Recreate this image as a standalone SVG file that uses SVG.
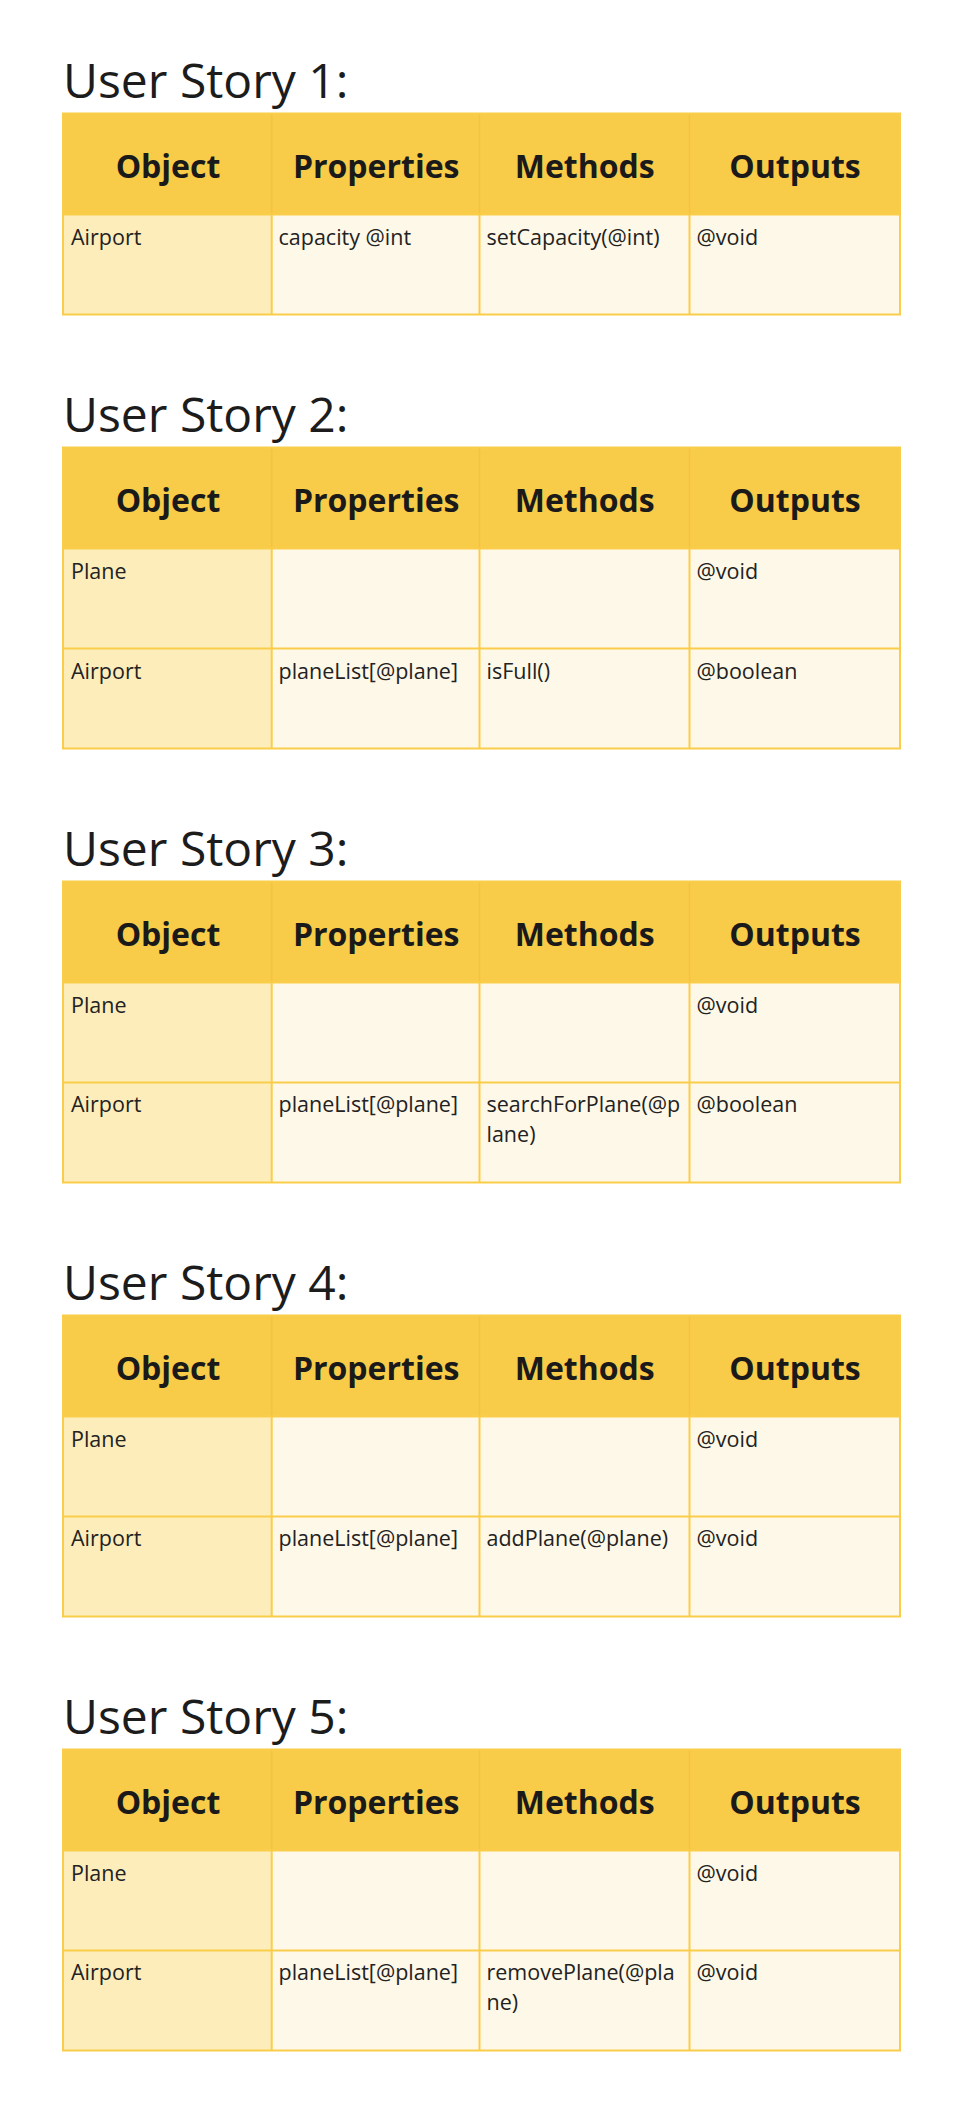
<svg xmlns="http://www.w3.org/2000/svg" width="958" height="2118" viewBox="0 0 958 2118">
<style>
.title{font-family:"Open Sans","Noto Sans","Liberation Sans",sans-serif;font-size:48px;fill:#1c1c1c}
.hd{font-family:"Open Sans","Noto Sans","Liberation Sans",sans-serif;font-size:32px;font-weight:700;fill:#1a1a1a;text-anchor:middle}
.tx{font-family:"Open Sans","Noto Sans","Liberation Sans",sans-serif;font-size:21.5px;fill:#222}
.hfill{fill:#F8CB48}
.ofill{fill:#FDEDBA}
.bfill{fill:#FEF8E8}
.hdiv{stroke:#F3C440;stroke-width:1.5;fill:none}
.grid{stroke:#F9CD4A;stroke-width:2;fill:none}
</style>
<rect x="0" y="0" width="958" height="2118" fill="#ffffff"/>

<g id="story1">
<text class="title" x="63" y="98">User Story 1:</text>
<rect class="hfill" x="63" y="113.5" width="837" height="101"/>
<rect class="ofill" x="63" y="214.5" width="208.7" height="100"/>
<rect class="bfill" x="271.7" y="214.5" width="628.3" height="100"/>
<path class="hdiv" d="M271.7 113.5V214.5M479.5 113.5V214.5M689.5 113.5V214.5"/>
<path class="grid" d="M63 113.5H900V314.5H63ZM63 214.5H900M271.7 214.5V314.5M479.5 214.5V314.5M689.5 214.5V314.5"/>
<text class="hd" x="168" y="177.5">Object</text>
<text class="hd" x="376.2" y="177.5">Properties</text>
<text class="hd" x="584.7" y="177.5">Methods</text>
<text class="hd" x="795" y="177.5">Outputs</text>
<text class="tx" x="71" y="244.5">Airport</text>
<text class="tx" x="278.5" y="244.5">capacity @int</text>
<text class="tx" x="486.5" y="244.5">setCapacity(@int)</text>
<text class="tx" x="696.5" y="244.5">@void</text>
</g>

<g id="story2">
<text class="title" x="63" y="432">User Story 2:</text>
<rect class="hfill" x="63" y="447.5" width="837" height="101"/>
<rect class="ofill" x="63" y="548.5" width="208.7" height="200"/>
<rect class="bfill" x="271.7" y="548.5" width="628.3" height="200"/>
<path class="hdiv" d="M271.7 447.5V548.5M479.5 447.5V548.5M689.5 447.5V548.5"/>
<path class="grid" d="M63 447.5H900V748.5H63ZM63 548.5H900M63 648.5H900M271.7 548.5V748.5M479.5 548.5V748.5M689.5 548.5V748.5"/>
<text class="hd" x="168" y="511.5">Object</text>
<text class="hd" x="376.2" y="511.5">Properties</text>
<text class="hd" x="584.7" y="511.5">Methods</text>
<text class="hd" x="795" y="511.5">Outputs</text>
<text class="tx" x="71" y="578.5">Plane</text>
<text class="tx" x="696.5" y="578.5">@void</text>
<text class="tx" x="71" y="678.5">Airport</text>
<text class="tx" x="278.5" y="678.5">planeList[@plane]</text>
<text class="tx" x="486.5" y="678.5">isFull()</text>
<text class="tx" x="696.5" y="678.5">@boolean</text>
</g>

<g id="story3">
<text class="title" x="63" y="866">User Story 3:</text>
<rect class="hfill" x="63" y="881.5" width="837" height="101"/>
<rect class="ofill" x="63" y="982.5" width="208.7" height="200"/>
<rect class="bfill" x="271.7" y="982.5" width="628.3" height="200"/>
<path class="hdiv" d="M271.7 881.5V982.5M479.5 881.5V982.5M689.5 881.5V982.5"/>
<path class="grid" d="M63 881.5H900V1182.5H63ZM63 982.5H900M63 1082.5H900M271.7 982.5V1182.5M479.5 982.5V1182.5M689.5 982.5V1182.5"/>
<text class="hd" x="168" y="945.5">Object</text>
<text class="hd" x="376.2" y="945.5">Properties</text>
<text class="hd" x="584.7" y="945.5">Methods</text>
<text class="hd" x="795" y="945.5">Outputs</text>
<text class="tx" x="71" y="1012.5">Plane</text>
<text class="tx" x="696.5" y="1012.5">@void</text>
<text class="tx" x="71" y="1112">Airport</text>
<text class="tx" x="278.5" y="1112">planeList[@plane]</text>
<text class="tx" x="486.5" y="1112">searchForPlane(@p<tspan x="486.5" dy="30">lane)</tspan></text>
<text class="tx" x="696.5" y="1112">@boolean</text>
</g>

<g id="story4">
<text class="title" x="63" y="1300">User Story 4:</text>
<rect class="hfill" x="63" y="1315.5" width="837" height="101"/>
<rect class="ofill" x="63" y="1416.5" width="208.7" height="200"/>
<rect class="bfill" x="271.7" y="1416.5" width="628.3" height="200"/>
<path class="hdiv" d="M271.7 1315.5V1416.5M479.5 1315.5V1416.5M689.5 1315.5V1416.5"/>
<path class="grid" d="M63 1315.5H900V1616.5H63ZM63 1416.5H900M63 1516.5H900M271.7 1416.5V1616.5M479.5 1416.5V1616.5M689.5 1416.5V1616.5"/>
<text class="hd" x="168" y="1379.5">Object</text>
<text class="hd" x="376.2" y="1379.5">Properties</text>
<text class="hd" x="584.7" y="1379.5">Methods</text>
<text class="hd" x="795" y="1379.5">Outputs</text>
<text class="tx" x="71" y="1446.5">Plane</text>
<text class="tx" x="696.5" y="1446.5">@void</text>
<text class="tx" x="71" y="1546">Airport</text>
<text class="tx" x="278.5" y="1546">planeList[@plane]</text>
<text class="tx" x="486.5" y="1546">addPlane(@plane)</text>
<text class="tx" x="696.5" y="1546">@void</text>
</g>

<g id="story5">
<text class="title" x="63" y="1734">User Story 5:</text>
<rect class="hfill" x="63" y="1749.5" width="837" height="101"/>
<rect class="ofill" x="63" y="1850.5" width="208.7" height="200"/>
<rect class="bfill" x="271.7" y="1850.5" width="628.3" height="200"/>
<path class="hdiv" d="M271.7 1749.5V1850.5M479.5 1749.5V1850.5M689.5 1749.5V1850.5"/>
<path class="grid" d="M63 1749.5H900V2050.5H63ZM63 1850.5H900M63 1950.5H900M271.7 1850.5V2050.5M479.5 1850.5V2050.5M689.5 1850.5V2050.5"/>
<text class="hd" x="168" y="1813.5">Object</text>
<text class="hd" x="376.2" y="1813.5">Properties</text>
<text class="hd" x="584.7" y="1813.5">Methods</text>
<text class="hd" x="795" y="1813.5">Outputs</text>
<text class="tx" x="71" y="1880.5">Plane</text>
<text class="tx" x="696.5" y="1880.5">@void</text>
<text class="tx" x="71" y="1980">Airport</text>
<text class="tx" x="278.5" y="1980">planeList[@plane]</text>
<text class="tx" x="486.5" y="1980">removePlane(@pla<tspan x="486.5" dy="30">ne)</tspan></text>
<text class="tx" x="696.5" y="1980">@void</text>
</g>
</svg>
